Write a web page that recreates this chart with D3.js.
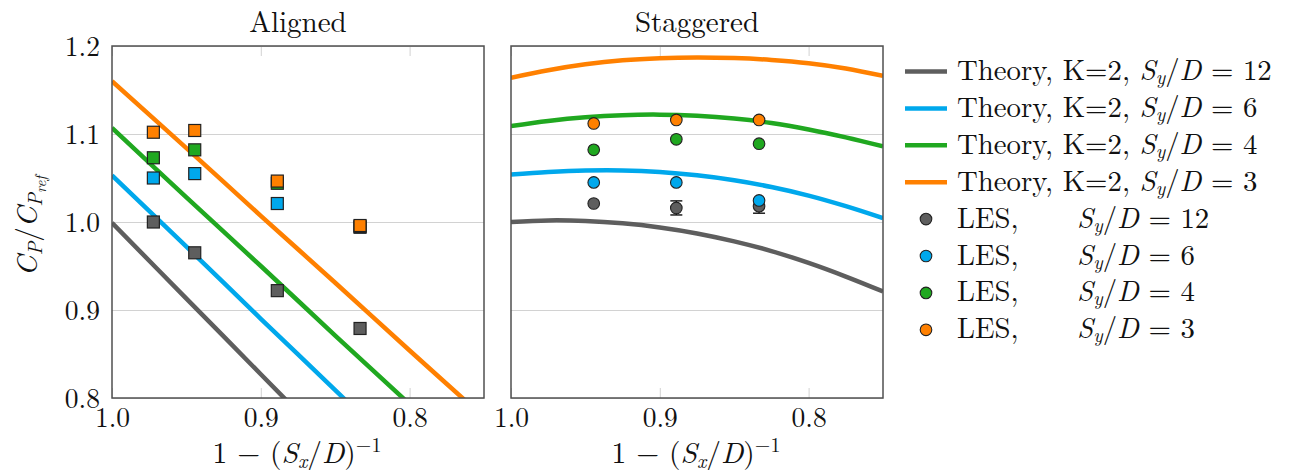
<!DOCTYPE html>
<html>
<head>
<meta charset="utf-8">
<script src="https://cdn.jsdelivr.net/npm/d3@7"></script>
<style>
  html, body { margin: 0; padding: 0; background: #fff; }
  svg { display: block; }
</style>
</head>
<body>
<svg id="chart" width="1294" height="474"></svg>
<script>
// ---- data ------------------------------------------------------------
const xTicks = [1.0, 0.9, 0.8];
const yTicks = [0.8, 0.9, 1.0, 1.1, 1.2];
const spacingLabels = ["12", "6", "4", "3"];   // S_y/D for each series

// Theory curves, aligned layout
const alignedTheoryX = [1.0, 0.95, 0.9, 0.85, 0.8, 0.75];
const alignedTheory12 = [0.999, 0.913, 0.827, 0.741, 0.655, 0.569];
const alignedTheory6  = [1.053, 0.972, 0.890, 0.809, 0.727, 0.646];
const alignedTheory4  = [1.107, 1.028, 0.950, 0.871, 0.793, 0.714];
const alignedTheory3  = [1.160, 1.084, 1.007, 0.931, 0.854, 0.778];

// Theory curves, staggered layout
const staggeredTheoryX = [1.0, 0.975, 0.95, 0.925, 0.9, 0.875, 0.85, 0.825, 0.8, 0.775, 0.75];
const staggeredTheory12 = [1.000, 1.0018, 1.0012, 0.9985, 0.9938, 0.9870, 0.9780, 0.9670, 0.9535, 0.9380, 0.921];
const staggeredTheory6  = [1.054, 1.0568, 1.0585, 1.0586, 1.0568, 1.0530, 1.0474, 1.0398, 1.0300, 1.0180, 1.0044];
const staggeredTheory4  = [1.109, 1.1148, 1.1190, 1.1214, 1.1220, 1.1207, 1.1176, 1.1125, 1.1052, 1.0962, 1.0859];
const staggeredTheory3  = [1.164, 1.1725, 1.1792, 1.1838, 1.1862, 1.1870, 1.1863, 1.1842, 1.1805, 1.1745, 1.166];

// LES results, aligned layout (S_x/D = 36, 18, 9, 6)
const alignedLesX = [0.9722, 0.9444, 0.8889, 0.8333];
const alignedLes12 = [1.000, 0.965, 0.922, 0.879];
const alignedLes6  = [1.050, 1.055, 1.021, 0.994];
const alignedLes4  = [1.073, 1.082, 1.044, 0.995];
const alignedLes3  = [1.102, 1.104, 1.0465, 0.996];

// LES results, staggered layout (S_x/D = 18, 9, 6)
const staggeredLesX = [0.9444, 0.8889, 0.8333];
const staggeredLes12 = [1.021, 1.016, 1.018];
const staggeredLes12Err = [0, 0.008, 0.008];
const staggeredLes6  = [1.045, 1.045, 1.0245];
const staggeredLes4  = [1.082, 1.094, 1.089];
const staggeredLes3  = [1.112, 1.116, 1.116];

// ---- style -----------------------------------------------------------
const FONT = '"Latin Modern Roman", "CMU Serif", "Liberation Serif", serif';
const colors = ["#5e5e5e", "#00a8ec", "#20a820", "#ff8000"];
const gridColor = "#d2d2d2";
const frameColor = "#505050";

const svg = d3.select("#chart");
svg.append("rect").attr("width", 1294).attr("height", 474).attr("fill", "#fff");

const plotTop = 46, plotBottom = 398;
const y = d3.scaleLinear().domain([0.8, 1.2]).range([plotBottom, plotTop]);

const panels = [
  {
    id: "aligned", title: "Aligned", left: 112, right: 484, yLabels: true,
    theoryX: alignedTheoryX,
    theory: [alignedTheory12, alignedTheory6, alignedTheory4, alignedTheory3],
    lesX: alignedLesX,
    les: [alignedLes12, alignedLes6, alignedLes4, alignedLes3],
    marker: "square"
  },
  {
    id: "staggered", title: "Staggered", left: 511, right: 883, yLabels: false,
    theoryX: staggeredTheoryX,
    theory: [staggeredTheory12, staggeredTheory6, staggeredTheory4, staggeredTheory3],
    lesX: staggeredLesX,
    les: [staggeredLes12, staggeredLes6, staggeredLes4, staggeredLes3],
    err: [staggeredLes12Err, null, null, null],
    marker: "circle"
  }
];

const fmt = d3.format(".1f");

function styledText(sel, size) {
  return sel.style("font-family", FONT).style("font-size", size + "px").style("fill", "#111");
}

function addXLabel(g, cx) {
  const t = styledText(g.append("text"), 29.5)
    .attr("x", cx).attr("y", 463)
    .attr("text-anchor", "middle");
  t.append("tspan").text("1 \u2212 (");
  t.append("tspan").style("font-style", "italic").text("S");
  t.append("tspan").style("font-style", "italic").style("font-size", "20px").attr("dy", 5).text("x");
  t.append("tspan").attr("dy", -5).text("/");
  t.append("tspan").style("font-style", "italic").text("D");
  t.append("tspan").text(")");
  t.append("tspan").style("font-size", "20px").attr("dy", -11).text("\u22121");
}

panels.forEach(p => {
  const x = d3.scaleLinear().domain([1.0, 0.75]).range([p.left, p.right]);
  const g = svg.append("g").attr("class", p.id);
  const w = p.right - p.left;

  // horizontal grid + y tick labels
  const yAxis = d3.axisLeft(y)
    .tickValues(yTicks)
    .tickFormat(p.yLabels ? fmt : "")
    .tickSizeInner(-w)
    .tickSizeOuter(0)
    .tickPadding(12);
  const ya = g.append("g").attr("transform", `translate(${p.left},0)`).call(yAxis);
  ya.select(".domain").remove();
  ya.selectAll(".tick line").attr("stroke", gridColor).attr("stroke-width", 1);
  styledText(ya.selectAll(".tick text"), 27.5).attr("dy", "0.34em");

  // x ticks (bottom, with labels) and (top, marks only)
  const xAxisB = d3.axisBottom(x)
    .tickValues(xTicks).tickFormat(fmt)
    .tickSizeInner(-10).tickSizeOuter(0).tickPadding(9);
  const xb = g.append("g").attr("transform", `translate(0,${plotBottom})`).call(xAxisB);
  xb.select(".domain").remove();
  xb.selectAll(".tick line").attr("stroke", gridColor).attr("stroke-width", 1);
  styledText(xb.selectAll(".tick text"), 27.5);

  const xAxisT = d3.axisTop(x)
    .tickValues(xTicks).tickFormat("")
    .tickSizeInner(-10).tickSizeOuter(0);
  const xt = g.append("g").attr("transform", `translate(0,${plotTop})`).call(xAxisT);
  xt.select(".domain").remove();
  xt.selectAll(".tick line").attr("stroke", gridColor).attr("stroke-width", 1);

  // clip region for curves
  g.append("clipPath").attr("id", "clip-" + p.id)
    .append("rect").attr("x", p.left).attr("y", plotTop).attr("width", w).attr("height", plotBottom - plotTop);

  // theory curves
  const line = d3.line()
    .x(d => x(d[0])).y(d => y(d[1]))
    .curve(d3.curveCatmullRom.alpha(0.5));
  const curves = g.append("g").attr("clip-path", `url(#clip-${p.id})`);
  p.theory.forEach((vals, i) => {
    curves.append("path")
      .datum(p.theoryX.map((xv, k) => [xv, vals[k]]))
      .attr("d", line)
      .attr("fill", "none")
      .attr("stroke", colors[i])
      .attr("stroke-width", 4.5)
      .attr("stroke-linejoin", "round");
  });

  // LES markers
  const marks = g.append("g");
  p.les.forEach((vals, i) => {
    const pts = p.lesX.map((xv, k) => ({ x: xv, v: vals[k], e: p.err && p.err[i] ? p.err[i][k] : 0 }));
    const eb = marks.append("g").attr("stroke", "#111").attr("stroke-width", 1.4);
    pts.filter(d => d.e > 0).forEach(d => {
      const cx = x(d.x), y0 = y(d.v - d.e), y1 = y(d.v + d.e);
      eb.append("line").attr("x1", cx).attr("x2", cx).attr("y1", y0).attr("y2", y1);
      eb.append("line").attr("x1", cx - 6).attr("x2", cx + 6).attr("y1", y0).attr("y2", y0);
      eb.append("line").attr("x1", cx - 6).attr("x2", cx + 6).attr("y1", y1).attr("y2", y1);
    });
    if (p.marker === "square") {
      marks.selectAll(null).data(pts).enter().append("rect")
        .attr("x", d => x(d.x) - 6).attr("y", d => y(d.v) - 6)
        .attr("width", 12).attr("height", 12)
        .attr("fill", colors[i])
        .attr("stroke", "#222").attr("stroke-width", 1.2);
    } else {
      marks.selectAll(null).data(pts).enter().append("circle")
        .attr("cx", d => x(d.x)).attr("cy", d => y(d.v))
        .attr("r", 5.8)
        .attr("fill", colors[i])
        .attr("stroke", "#222").attr("stroke-width", 1.1);
    }
  });

  // frame
  g.append("rect")
    .attr("x", p.left).attr("y", plotTop).attr("width", w).attr("height", plotBottom - plotTop)
    .attr("fill", "none").attr("stroke", frameColor).attr("stroke-width", 1.5);

  // title and x label
  styledText(g.append("text"), 29)
    .attr("x", (p.left + p.right) / 2).attr("y", 32)
    .attr("text-anchor", "middle")
    .text(p.title);
  addXLabel(g, (p.left + p.right) / 2 - 1);
});

// y axis label: C_P / C_{P_ref}
{
  const t = styledText(svg.append("text"), 29)
    .attr("transform", "translate(37,226) rotate(-90)")
    .attr("text-anchor", "middle");
  t.append("tspan").style("font-style", "italic").text("C");
  t.append("tspan").style("font-style", "italic").style("font-size", "20px").attr("dy", 5).text("P");
  t.append("tspan").attr("dy", -5).text("/");
  t.append("tspan").style("font-style", "italic").text("C");
  t.append("tspan").style("font-style", "italic").style("font-size", "20px").attr("dy", 5).text("P");
  t.append("tspan").style("font-style", "italic").style("font-size", "15px").attr("dy", 4).text("ref");
}

// legend
{
  const lg = svg.append("g").attr("class", "legend");
  const rowY = i => 71.5 + i * 36.9;
  const entries = [];
  spacingLabels.forEach((s, i) => entries.push({ kind: "theory", s, c: colors[i] }));
  spacingLabels.forEach((s, i) => entries.push({ kind: "les", s, c: colors[i] }));

  entries.forEach((e, i) => {
    const cy = rowY(i);
    if (e.kind === "theory") {
      lg.append("line").attr("x1", 905).attr("x2", 947).attr("y1", cy).attr("y2", cy)
        .attr("stroke", e.c).attr("stroke-width", 4.5);
    } else {
      lg.append("circle").attr("cx", 926).attr("cy", cy).attr("r", 5.8)
        .attr("fill", e.c).attr("stroke", "#222").attr("stroke-width", 1.1);
    }
    const t = styledText(lg.append("text"), 28.8).attr("x", 957).attr("y", cy + 8.5);
    let s;
    if (e.kind === "theory") {
      t.append("tspan").text("Theory, K=2, ");
      s = t.append("tspan");
    } else {
      t.append("tspan").text("LES,");
      s = t.append("tspan").attr("x", 1077);
    }
    s.style("font-style", "italic").text("S");
    t.append("tspan").style("font-style", "italic").style("font-size", "19.5px").attr("dy", 4).text("y");
    t.append("tspan").attr("dy", -4).text("/");
    t.append("tspan").style("font-style", "italic").text("D");
    t.append("tspan").text(" = " + e.s);
  });
}
</script>
</body>
</html>
